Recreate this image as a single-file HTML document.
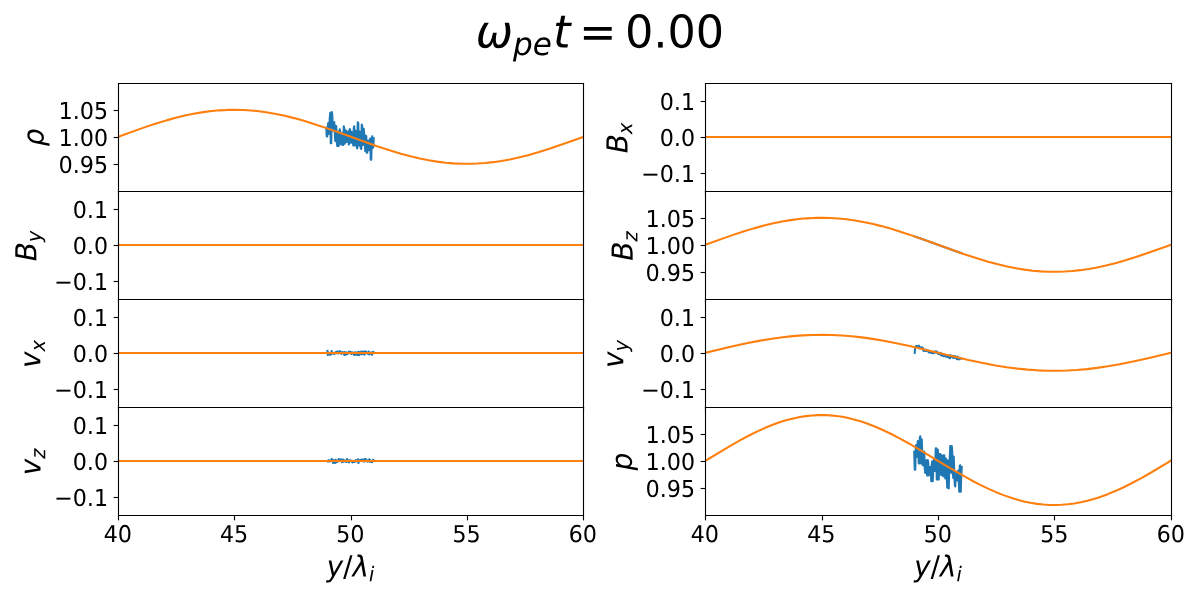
<!DOCTYPE html>
<html><head><meta charset="utf-8"><style>
html,body{margin:0;padding:0;background:#fff;width:1200px;height:600px;overflow:hidden;font-family:"Liberation Sans",sans-serif;}
svg{display:block}
</style></head><body>
<svg width="1200" height="600" viewBox="0 0 864 432" version="1.1">
 
 <defs>
  <style type="text/css">*{stroke-linejoin: round; stroke-linecap: butt}</style>
 </defs>
 <g id="figure_1">
  <g id="patch_1">
   <path d="M 0 432 
L 864 432 
L 864 0 
L 0 0 
z
" style="fill: #ffffff"/>
  </g>
  <g id="axes_1">
   <g id="patch_2">
    <path d="M 85.32 137.88 
L 420.12 137.88 
L 420.12 60.12 
L 85.32 60.12 
z
" style="fill: #ffffff"/>
   </g>
   <g id="matplotlib.axis_1">
    <g id="xtick_1">
     <g id="line2d_1">
      <defs>
       <path id="m1504cfccaf" d="M 0 0 
L 0 3.5 
" style="stroke: #000000; stroke-width: 0.8"/>
      </defs>
      <g>
       <use href="#m1504cfccaf" x="85.3200" y="137.88" style="stroke: #000000; stroke-width: 0.8"/>
      </g>
     </g>
    </g>
    <g id="xtick_2">
     <g id="line2d_2">
      <g>
       <use href="#m1504cfccaf" x="168.8400" y="137.88" style="stroke: #000000; stroke-width: 0.8"/>
      </g>
     </g>
    </g>
    <g id="xtick_3">
     <g id="line2d_3">
      <g>
       <use href="#m1504cfccaf" x="253.0800" y="137.88" style="stroke: #000000; stroke-width: 0.8"/>
      </g>
     </g>
    </g>
    <g id="xtick_4">
     <g id="line2d_4">
      <g>
       <use href="#m1504cfccaf" x="336.6000" y="137.88" style="stroke: #000000; stroke-width: 0.8"/>
      </g>
     </g>
    </g>
    <g id="xtick_5">
     <g id="line2d_5">
      <g>
       <use href="#m1504cfccaf" x="420.1200" y="137.88" style="stroke: #000000; stroke-width: 0.8"/>
      </g>
     </g>
    </g>
   </g>
   <g id="matplotlib.axis_2">
    <g id="ytick_1">
     <g id="line2d_6">
      <defs>
       <path id="m5d545ce8f8" d="M 0 0 
L -3.5 0 
" style="stroke: #000000; stroke-width: 0.8"/>
      </defs>
      <g>
       <use href="#m5d545ce8f8" x="85.3200" y="118.44" style="stroke: #000000; stroke-width: 0.8"/>
      </g>
     </g>
     <g id="text_1">
      <!-- 0.95 -->
      <g transform="translate(42.195 124.51875) scale(0.16 -0.1672)">
       <defs>
        <path id="DejaVuSans-30" d="M 2034 4250 
Q 1547 4250 1301 3770 
Q 1056 3291 1056 2328 
Q 1056 1369 1301 889 
Q 1547 409 2034 409 
Q 2525 409 2770 889 
Q 3016 1369 3016 2328 
Q 3016 3291 2770 3770 
Q 2525 4250 2034 4250 
z
M 2034 4750 
Q 2819 4750 3233 4129 
Q 3647 3509 3647 2328 
Q 3647 1150 3233 529 
Q 2819 -91 2034 -91 
Q 1250 -91 836 529 
Q 422 1150 422 2328 
Q 422 3509 836 4129 
Q 1250 4750 2034 4750 
z
" transform="scale(0.015625)"/>
        <path id="DejaVuSans-2e" d="M 684 794 
L 1344 794 
L 1344 0 
L 684 0 
L 684 794 
z
" transform="scale(0.015625)"/>
        <path id="DejaVuSans-39" d="M 703 97 
L 703 672 
Q 941 559 1184 500 
Q 1428 441 1663 441 
Q 2288 441 2617 861 
Q 2947 1281 2994 2138 
Q 2813 1869 2534 1725 
Q 2256 1581 1919 1581 
Q 1219 1581 811 2004 
Q 403 2428 403 3163 
Q 403 3881 828 4315 
Q 1253 4750 1959 4750 
Q 2769 4750 3195 4129 
Q 3622 3509 3622 2328 
Q 3622 1225 3098 567 
Q 2575 -91 1691 -91 
Q 1453 -91 1209 -44 
Q 966 3 703 97 
z
M 1959 2075 
Q 2384 2075 2632 2365 
Q 2881 2656 2881 3163 
Q 2881 3666 2632 3958 
Q 2384 4250 1959 4250 
Q 1534 4250 1286 3958 
Q 1038 3666 1038 3163 
Q 1038 2656 1286 2365 
Q 1534 2075 1959 2075 
z
" transform="scale(0.015625)"/>
        <path id="DejaVuSans-35" d="M 691 4666 
L 3169 4666 
L 3169 4134 
L 1269 4134 
L 1269 2991 
Q 1406 3038 1543 3061 
Q 1681 3084 1819 3084 
Q 2600 3084 3056 2656 
Q 3513 2228 3513 1497 
Q 3513 744 3044 326 
Q 2575 -91 1722 -91 
Q 1428 -91 1123 -41 
Q 819 9 494 109 
L 494 744 
Q 775 591 1075 516 
Q 1375 441 1709 441 
Q 2250 441 2565 725 
Q 2881 1009 2881 1497 
Q 2881 1984 2565 2268 
Q 2250 2553 1709 2553 
Q 1456 2553 1204 2497 
Q 953 2441 691 2322 
L 691 4666 
z
" transform="scale(0.015625)"/>
       </defs>
       <use href="#DejaVuSans-30"/>
       <use href="#DejaVuSans-2e" transform="translate(63.623047 0)"/>
       <use href="#DejaVuSans-39" transform="translate(95.410156 0)"/>
       <use href="#DejaVuSans-35" transform="translate(159.033203 0)"/>
      </g>
     </g>
    </g>
    <g id="ytick_2">
     <g id="line2d_7">
      <g>
       <use href="#m5d545ce8f8" x="85.3200" y="99" style="stroke: #000000; stroke-width: 0.8"/>
      </g>
     </g>
     <g id="text_2">
      <!-- 1.00 -->
      <g transform="translate(42.195 105.07875) scale(0.16 -0.1672)">
       <defs>
        <path id="DejaVuSans-31" d="M 794 531 
L 1825 531 
L 1825 4091 
L 703 3866 
L 703 4441 
L 1819 4666 
L 2450 4666 
L 2450 531 
L 3481 531 
L 3481 0 
L 794 0 
L 794 531 
z
" transform="scale(0.015625)"/>
       </defs>
       <use href="#DejaVuSans-31"/>
       <use href="#DejaVuSans-2e" transform="translate(63.623047 0)"/>
       <use href="#DejaVuSans-30" transform="translate(95.410156 0)"/>
       <use href="#DejaVuSans-30" transform="translate(159.033203 0)"/>
      </g>
     </g>
    </g>
    <g id="ytick_3">
     <g id="line2d_8">
      <g>
       <use href="#m5d545ce8f8" x="85.3200" y="79.56" style="stroke: #000000; stroke-width: 0.8"/>
      </g>
     </g>
     <g id="text_3">
      <!-- 1.05 -->
      <g transform="translate(42.195 85.63875) scale(0.16 -0.1672)">
       <use href="#DejaVuSans-31"/>
       <use href="#DejaVuSans-2e" transform="translate(63.623047 0)"/>
       <use href="#DejaVuSans-30" transform="translate(95.410156 0)"/>
       <use href="#DejaVuSans-35" transform="translate(159.033203 0)"/>
      </g>
     </g>
    </g>
    <g id="text_4">
     <!-- $\rho$ -->
     <g transform="translate(31.331 105.4) rotate(-90) scale(0.2 -0.208)">
      <defs>
       <path id="DejaVuSans-Oblique-3c1" d="M 1203 2875 
Q 1453 3194 1981 3475 
Q 2188 3584 2756 3584 
Q 3394 3584 3694 3078 
Q 3994 2572 3834 1747 
Q 3672 922 3175 415 
Q 2678 -91 2041 -91 
Q 1656 -91 1409 63 
Q 1163 213 1044 525 
L 681 -1331 
L 103 -1331 
L 697 1716 
Q 838 2438 1203 2875 
z
M 3238 1747 
Q 3359 2381 3169 2744 
Q 2978 3103 2522 3103 
Q 2066 3103 1734 2744 
Q 1403 2381 1281 1747 
Q 1156 1113 1347 750 
Q 1538 391 1994 391 
Q 2450 391 2781 750 
Q 3113 1113 3238 1747 
z
" transform="scale(0.015625)"/>
      </defs>
      <use href="#DejaVuSans-Oblique-3c1"/>
     </g>
    </g>
   </g>
   <g id="line2d_9">
    <path d="M 234.9 91.949403 
L 235.26 98.28 
L 235.62 98.28 
L 235.98 91.304379 
L 236.34 88.626982 
L 236.7 96.363856 
L 237.06 95.681764 
L 237.42 84.945842 
L 237.78 81.161924 
L 238.14 103.14 
L 238.5 103.14 
L 238.86 80.64 
L 239.22 82.084256 
L 239.58 93.014667 
L 239.94 94.014259 
L 240.3 88.030678 
L 240.66 87.946177 
L 241.02 94.814289 
L 241.38 101.408366 
L 241.74 90.522402 
L 242.1 91.020074 
L 242.46 101.741615 
L 242.82 105.12 
L 243.18 95.120037 
L 243.54 94.773626 
L 243.9 105.12 
L 244.26 101.318614 
L 244.62 93.06 
L 244.98 94.636168 
L 245.34 101.498002 
L 245.7 104.03838 
L 246.06 95.995119 
L 246.42 95.746723 
L 246.78 104.4 
L 247.14 104.4 
L 247.5 90.9 
L 247.86 92.647283 
L 248.22 103.424817 
L 248.58 101.334728 
L 248.94 93.793154 
L 249.3 96.531763 
L 249.66 102.24 
L 250.02 100.558243 
L 250.38 95.93805 
L 250.74 94.535805 
L 251.1 104.04 
L 251.46 103.297366 
L 251.82 92.88 
L 252.18 93.617269 
L 252.54 100.41133 
L 252.9 102.78 
L 253.26 95.139644 
L 253.62 96.378252 
L 253.98 100.132382 
L 254.34 104.76 
L 254.7 92.238052 
L 255.06 90.9 
L 255.42 104.76 
L 255.78 101.329574 
L 256.14 94.240919 
L 256.5 94.948568 
L 256.86 105.825802 
L 257.22 106.92 
L 257.58 88.02 
L 257.94 88.489142 
L 258.3 104.331 
L 258.66 104.809055 
L 259.02 94.732259 
L 259.38 94.90013 
L 259.74 106.696621 
L 260.1 107.28 
L 260.46 89.64 
L 260.82 90.924555 
L 261.18 104.466783 
L 261.54 100.457207 
L 261.9 92.726127 
L 262.26 96.670359 
L 262.62 101.215665 
L 262.98 108.78283 
L 263.34 97.692392 
L 263.7 97.923603 
L 264.06 109.98 
L 264.42 109.98 
L 264.78 101.352488 
L 265.14 101.421416 
L 265.5 108.197754 
L 265.86 107.522324 
L 266.22 100.456926 
L 266.58 99.722111 
L 266.94 115.02 
L 267.3 115.02 
L 267.66 100.843243 
L 268.02 98.1 
L 268.38 106.486916 
L 268.74 105.977042 
L 269.1 99.454767 
" clip-path="url(#p53d10d1dcf)" style="fill: none; stroke: #1f77b4; stroke-width: 1.5; stroke-linecap: square"/>
   </g>
   <g id="line2d_10">
    <path d="M 84.96 98.496 
L 102.402018 92.250835 
L 111.793874 89.122138 
L 119.844036 86.667741 
L 127.223351 84.652926 
L 133.93182 83.049981 
L 140.304865 81.752915 
L 146.342486 80.744144 
L 152.380108 79.962649 
L 158.082306 79.442313 
L 163.784505 79.139593 
L 169.486703 79.057946 
L 175.188901 79.198307 
L 180.891099 79.559071 
L 186.593297 80.136117 
L 192.630919 80.975485 
L 198.668541 82.039167 
L 205.041586 83.390206 
L 211.750054 85.044708 
L 218.793946 87.010186 
L 226.508685 89.391071 
L 235.565117 92.42479 
L 247.64036 96.725579 
L 271.455423 105.259633 
L 280.511856 108.24246 
L 288.562018 110.660972 
L 295.60591 112.551959 
L 302.314378 114.125704 
L 308.687423 115.392334 
L 314.725045 116.370247 
L 320.762667 117.119316 
L 326.464865 117.607964 
L 332.167063 117.87833 
L 337.869261 117.927325 
L 343.571459 117.754391 
L 349.273658 117.361503 
L 354.975856 116.753147 
L 361.013477 115.881915 
L 367.051099 114.788092 
L 373.424144 113.407534 
L 380.132613 111.724959 
L 387.511928 109.633803 
L 395.56209 107.111222 
L 404.953946 103.92487 
L 418.370883 99.107236 
L 420.048 98.496 
L 420.048 98.496 
" clip-path="url(#p53d10d1dcf)" style="fill: none; stroke: #ff7f0e; stroke-width: 1.5; stroke-linecap: square"/>
   </g>
   <g id="patch_3">
    <path d="M 85.32 137.88 
L 85.32 60.12 
" style="fill: none; stroke: #000000; stroke-width: 0.8; stroke-linejoin: miter; stroke-linecap: square"/>
   </g>
   <g id="patch_4">
    <path d="M 420.12 137.88 
L 420.12 60.12 
" style="fill: none; stroke: #000000; stroke-width: 0.8; stroke-linejoin: miter; stroke-linecap: square"/>
   </g>
   <g id="patch_5">
    <path d="M 85.32 137.88 
L 420.12 137.88 
" style="fill: none; stroke: #000000; stroke-width: 0.8; stroke-linejoin: miter; stroke-linecap: square"/>
   </g>
   <g id="patch_6">
    <path d="M 85.32 60.12 
L 420.12 60.12 
" style="fill: none; stroke: #000000; stroke-width: 0.8; stroke-linejoin: miter; stroke-linecap: square"/>
   </g>
  </g>
  <g id="axes_2">
   <g id="patch_7">
    <path d="M 85.32 215.64 
L 420.12 215.64 
L 420.12 137.88 
L 85.32 137.88 
z
" style="fill: #ffffff"/>
   </g>
   <g id="matplotlib.axis_3">
    <g id="xtick_6">
     <g id="line2d_11">
      <g>
       <use href="#m1504cfccaf" x="85.3200" y="215.64" style="stroke: #000000; stroke-width: 0.8"/>
      </g>
     </g>
    </g>
    <g id="xtick_7">
     <g id="line2d_12">
      <g>
       <use href="#m1504cfccaf" x="168.8400" y="215.64" style="stroke: #000000; stroke-width: 0.8"/>
      </g>
     </g>
    </g>
    <g id="xtick_8">
     <g id="line2d_13">
      <g>
       <use href="#m1504cfccaf" x="253.0800" y="215.64" style="stroke: #000000; stroke-width: 0.8"/>
      </g>
     </g>
    </g>
    <g id="xtick_9">
     <g id="line2d_14">
      <g>
       <use href="#m1504cfccaf" x="336.6000" y="215.64" style="stroke: #000000; stroke-width: 0.8"/>
      </g>
     </g>
    </g>
    <g id="xtick_10">
     <g id="line2d_15">
      <g>
       <use href="#m1504cfccaf" x="420.1200" y="215.64" style="stroke: #000000; stroke-width: 0.8"/>
      </g>
     </g>
    </g>
   </g>
   <g id="matplotlib.axis_4">
    <g id="ytick_4">
     <g id="line2d_16">
      <g>
       <use href="#m5d545ce8f8" x="85.3200" y="202.68" style="stroke: #000000; stroke-width: 0.8"/>
      </g>
     </g>
     <g id="text_5">
      <!-- −0.1 -->
      <g transform="translate(38.9675 208.75875) scale(0.16 -0.1672)">
       <defs>
        <path id="DejaVuSans-2212" d="M 678 2272 
L 4684 2272 
L 4684 1741 
L 678 1741 
L 678 2272 
z
" transform="scale(0.015625)"/>
       </defs>
       <use href="#DejaVuSans-2212"/>
       <use href="#DejaVuSans-30" transform="translate(83.789062 0)"/>
       <use href="#DejaVuSans-2e" transform="translate(147.412109 0)"/>
       <use href="#DejaVuSans-31" transform="translate(179.199219 0)"/>
      </g>
     </g>
    </g>
    <g id="ytick_5">
     <g id="line2d_17">
      <g>
       <use href="#m5d545ce8f8" x="85.3200" y="176.76" style="stroke: #000000; stroke-width: 0.8"/>
      </g>
     </g>
     <g id="text_6">
      <!-- 0.0 -->
      <g transform="translate(52.375 182.83875) scale(0.16 -0.1672)">
       <use href="#DejaVuSans-30"/>
       <use href="#DejaVuSans-2e" transform="translate(63.623047 0)"/>
       <use href="#DejaVuSans-30" transform="translate(95.410156 0)"/>
      </g>
     </g>
    </g>
    <g id="ytick_6">
     <g id="line2d_18">
      <g>
       <use href="#m5d545ce8f8" x="85.3200" y="150.84" style="stroke: #000000; stroke-width: 0.8"/>
      </g>
     </g>
     <g id="text_7">
      <!-- 0.1 -->
      <g transform="translate(52.375 156.91875) scale(0.16 -0.1672)">
       <use href="#DejaVuSans-30"/>
       <use href="#DejaVuSans-2e" transform="translate(63.623047 0)"/>
       <use href="#DejaVuSans-31" transform="translate(95.410156 0)"/>
      </g>
     </g>
    </g>
    <g id="text_8">
     <!-- $B_y$ -->
     <g transform="translate(26.1755 188.06) rotate(-90) scale(0.2 -0.208)">
      <defs>
       <path id="DejaVuSans-Oblique-42" d="M 1081 4666 
L 2694 4666 
Q 3350 4666 3675 4422 
Q 4000 4178 4000 3688 
Q 4000 3238 3720 2911 
Q 3441 2584 2988 2516 
Q 3375 2428 3569 2181 
Q 3763 1934 3763 1522 
Q 3763 819 3242 409 
Q 2722 0 1819 0 
L 172 0 
L 1081 4666 
z
M 1234 2228 
L 903 519 
L 1919 519 
Q 2491 519 2800 781 
Q 3109 1044 3109 1522 
Q 3109 1891 2904 2059 
Q 2700 2228 2247 2228 
L 1234 2228 
z
M 1606 4147 
L 1331 2741 
L 2272 2741 
Q 2775 2741 3058 2959 
Q 3341 3178 3341 3566 
Q 3341 3869 3150 4008 
Q 2959 4147 2541 4147 
L 1606 4147 
z
" transform="scale(0.015625)"/>
       <path id="DejaVuSans-Oblique-79" d="M 1588 -325 
Q 1188 -997 936 -1164 
Q 684 -1331 294 -1331 
L -159 -1331 
L -63 -850 
L 269 -850 
Q 509 -850 678 -719 
Q 847 -588 1056 -206 
L 1234 128 
L 459 3500 
L 1069 3500 
L 1650 819 
L 3256 3500 
L 3859 3500 
L 1588 -325 
z
" transform="scale(0.015625)"/>
      </defs>
      <use href="#DejaVuSans-Oblique-42" transform="translate(0 0.09375)"/>
      <use href="#DejaVuSans-Oblique-79" transform="translate(68.603516 -16.3125) scale(0.7)"/>
     </g>
    </g>
   </g>
   <g id="line2d_19">
    <path d="M 235.7496 176.4 
L 236.088073 176.4 
L 236.426545 176.4 
L 236.765018 176.4 
L 237.103491 176.4 
L 237.441964 176.4 
L 237.780436 176.4 
L 238.118909 176.4 
L 238.457382 176.4 
L 238.795855 176.4 
L 239.134327 176.4 
L 239.4728 176.4 
L 239.811273 176.4 
L 240.149745 176.4 
L 240.488218 176.4 
L 240.826691 176.4 
L 241.165164 176.4 
L 241.503636 176.4 
L 241.842109 176.4 
L 242.180582 176.4 
L 242.519055 176.4 
L 242.857527 176.4 
L 243.196 176.4 
L 243.534473 176.4 
L 243.872945 176.4 
L 244.211418 176.4 
L 244.549891 176.4 
L 244.888364 176.4 
L 245.226836 176.4 
L 245.565309 176.4 
L 245.903782 176.4 
L 246.242255 176.4 
L 246.580727 176.4 
L 246.9192 176.4 
L 247.257673 176.4 
L 247.596145 176.4 
L 247.934618 176.4 
L 248.273091 176.4 
L 248.611564 176.4 
L 248.950036 176.4 
L 249.288509 176.4 
L 249.626982 176.4 
L 249.965455 176.4 
L 250.303927 176.4 
L 250.6424 176.4 
L 250.980873 176.4 
L 251.319345 176.4 
L 251.657818 176.4 
L 251.996291 176.4 
L 252.334764 176.4 
L 252.673236 176.4 
L 253.011709 176.4 
L 253.350182 176.4 
L 253.688655 176.4 
L 254.027127 176.4 
L 254.3656 176.4 
L 254.704073 176.4 
L 255.042545 176.4 
L 255.381018 176.4 
L 255.719491 176.4 
L 256.057964 176.4 
L 256.396436 176.4 
L 256.734909 176.4 
L 257.073382 176.4 
L 257.411855 176.4 
L 257.750327 176.4 
L 258.0888 176.4 
L 258.427273 176.4 
L 258.765745 176.4 
L 259.104218 176.4 
L 259.442691 176.4 
L 259.781164 176.4 
L 260.119636 176.4 
L 260.458109 176.4 
L 260.796582 176.4 
L 261.135055 176.4 
L 261.473527 176.4 
L 261.812 176.4 
L 262.150473 176.4 
L 262.488945 176.4 
L 262.827418 176.4 
L 263.165891 176.4 
L 263.504364 176.4 
L 263.842836 176.4 
L 264.181309 176.4 
L 264.519782 176.4 
L 264.858255 176.4 
L 265.196727 176.4 
L 265.5352 176.4 
L 265.873673 176.4 
L 266.212145 176.4 
L 266.550618 176.4 
L 266.889091 176.4 
L 267.227564 176.4 
L 267.566036 176.4 
L 267.904509 176.4 
L 268.242982 176.4 
L 268.581455 176.4 
L 268.919927 176.4 
L 269.2584 176.4 
" clip-path="url(#p3baa5bf8ba)" style="fill: none; stroke: #1f77b4; stroke-width: 1.5; stroke-linecap: square"/>
   </g>
   <g id="line2d_20">
    <path d="M 84.96 176.4 
L 420.048 176.4 
L 420.048 176.4 
" clip-path="url(#p3baa5bf8ba)" style="fill: none; stroke: #ff7f0e; stroke-width: 1.5; stroke-linecap: square"/>
   </g>
   <g id="patch_8">
    <path d="M 85.32 215.64 
L 85.32 137.88 
" style="fill: none; stroke: #000000; stroke-width: 0.8; stroke-linejoin: miter; stroke-linecap: square"/>
   </g>
   <g id="patch_9">
    <path d="M 420.12 215.64 
L 420.12 137.88 
" style="fill: none; stroke: #000000; stroke-width: 0.8; stroke-linejoin: miter; stroke-linecap: square"/>
   </g>
   <g id="patch_10">
    <path d="M 85.32 215.64 
L 420.12 215.64 
" style="fill: none; stroke: #000000; stroke-width: 0.8; stroke-linejoin: miter; stroke-linecap: square"/>
   </g>
   <g id="patch_11">
    <path d="M 85.32 137.88 
L 420.12 137.88 
" style="fill: none; stroke: #000000; stroke-width: 0.8; stroke-linejoin: miter; stroke-linecap: square"/>
   </g>
  </g>
  <g id="axes_3">
   <g id="patch_12">
    <path d="M 85.32 293.4 
L 420.12 293.4 
L 420.12 215.64 
L 85.32 215.64 
z
" style="fill: #ffffff"/>
   </g>
   <g id="matplotlib.axis_5">
    <g id="xtick_11">
     <g id="line2d_21">
      <g>
       <use href="#m1504cfccaf" x="85.3200" y="293.4" style="stroke: #000000; stroke-width: 0.8"/>
      </g>
     </g>
    </g>
    <g id="xtick_12">
     <g id="line2d_22">
      <g>
       <use href="#m1504cfccaf" x="168.8400" y="293.4" style="stroke: #000000; stroke-width: 0.8"/>
      </g>
     </g>
    </g>
    <g id="xtick_13">
     <g id="line2d_23">
      <g>
       <use href="#m1504cfccaf" x="253.0800" y="293.4" style="stroke: #000000; stroke-width: 0.8"/>
      </g>
     </g>
    </g>
    <g id="xtick_14">
     <g id="line2d_24">
      <g>
       <use href="#m1504cfccaf" x="336.6000" y="293.4" style="stroke: #000000; stroke-width: 0.8"/>
      </g>
     </g>
    </g>
    <g id="xtick_15">
     <g id="line2d_25">
      <g>
       <use href="#m1504cfccaf" x="420.1200" y="293.4" style="stroke: #000000; stroke-width: 0.8"/>
      </g>
     </g>
    </g>
   </g>
   <g id="matplotlib.axis_6">
    <g id="ytick_7">
     <g id="line2d_26">
      <g>
       <use href="#m5d545ce8f8" x="85.3200" y="280.44" style="stroke: #000000; stroke-width: 0.8"/>
      </g>
     </g>
     <g id="text_9">
      <!-- −0.1 -->
      <g transform="translate(38.9675 286.51875) scale(0.16 -0.1672)">
       <use href="#DejaVuSans-2212"/>
       <use href="#DejaVuSans-30" transform="translate(83.789062 0)"/>
       <use href="#DejaVuSans-2e" transform="translate(147.412109 0)"/>
       <use href="#DejaVuSans-31" transform="translate(179.199219 0)"/>
      </g>
     </g>
    </g>
    <g id="ytick_8">
     <g id="line2d_27">
      <g>
       <use href="#m5d545ce8f8" x="85.3200" y="254.52" style="stroke: #000000; stroke-width: 0.8"/>
      </g>
     </g>
     <g id="text_10">
      <!-- 0.0 -->
      <g transform="translate(52.375 260.59875) scale(0.16 -0.1672)">
       <use href="#DejaVuSans-30"/>
       <use href="#DejaVuSans-2e" transform="translate(63.623047 0)"/>
       <use href="#DejaVuSans-30" transform="translate(95.410156 0)"/>
      </g>
     </g>
    </g>
    <g id="ytick_9">
     <g id="line2d_28">
      <g>
       <use href="#m5d545ce8f8" x="85.3200" y="228.6" style="stroke: #000000; stroke-width: 0.8"/>
      </g>
     </g>
     <g id="text_11">
      <!-- 0.1 -->
      <g transform="translate(52.375 234.67875) scale(0.16 -0.1672)">
       <use href="#DejaVuSans-30"/>
       <use href="#DejaVuSans-2e" transform="translate(63.623047 0)"/>
       <use href="#DejaVuSans-31" transform="translate(95.410156 0)"/>
      </g>
     </g>
    </g>
    <g id="text_12">
     <!-- $v_x$ -->
     <g transform="translate(29.080125 264.92) rotate(-90) scale(0.2 -0.208)">
      <defs>
       <path id="DejaVuSans-Oblique-76" d="M 459 3500 
L 1069 3500 
L 1581 525 
L 3256 3500 
L 3866 3500 
L 1875 0 
L 1100 0 
L 459 3500 
z
" transform="scale(0.015625)"/>
       <path id="DejaVuSans-Oblique-78" d="M 3841 3500 
L 2234 1784 
L 3219 0 
L 2559 0 
L 1819 1388 
L 531 0 
L -166 0 
L 1556 1844 
L 641 3500 
L 1300 3500 
L 1972 2234 
L 3144 3500 
L 3841 3500 
z
" transform="scale(0.015625)"/>
      </defs>
      <use href="#DejaVuSans-Oblique-76" transform="translate(0 0.3125)"/>
      <use href="#DejaVuSans-Oblique-78" transform="translate(59.179688 -16.09375) scale(0.7)"/>
     </g>
    </g>
   </g>
   <g id="line2d_29">
    <path d="M 235.7496 252.70848 
L 236.088073 255.61152 
L 236.426545 253.856561 
L 236.765018 254.572064 
L 237.103491 254.488515 
L 237.441964 254.316472 
L 237.780436 255.61152 
L 238.118909 254.328327 
L 238.457382 254.787937 
L 238.795855 252.70848 
L 239.134327 253.996133 
L 239.4728 254.415925 
L 239.811273 254.364147 
L 240.149745 254.644841 
L 240.488218 254.925786 
L 240.826691 254.443628 
L 241.165164 253.810223 
L 241.503636 254.333133 
L 241.842109 253.464897 
L 242.180582 254.305008 
L 242.519055 254.142393 
L 242.857527 253.038105 
L 243.196 253.764384 
L 243.534473 254.526675 
L 243.872945 254.292697 
L 244.211418 253.767708 
L 244.549891 252.755591 
L 244.888364 254.35568 
L 245.226836 254.336765 
L 245.565309 253.432561 
L 245.903782 254.803357 
L 246.242255 254.371719 
L 246.580727 253.519489 
L 246.9192 253.738805 
L 247.257673 254.093581 
L 247.596145 253.673665 
L 247.934618 255.61152 
L 248.273091 253.418776 
L 248.611564 254.856472 
L 248.950036 255.371018 
L 249.288509 253.959367 
L 249.626982 253.651573 
L 249.965455 254.482794 
L 250.303927 254.941212 
L 250.6424 254.14104 
L 250.980873 254.198282 
L 251.319345 253.139873 
L 251.657818 253.617561 
L 251.996291 254.019336 
L 252.334764 253.353221 
L 252.673236 254.30916 
L 253.011709 254.831981 
L 253.350182 253.736114 
L 253.688655 253.737217 
L 254.027127 254.315914 
L 254.3656 254.728131 
L 254.704073 253.993689 
L 255.042545 255.61152 
L 255.381018 253.659135 
L 255.719491 253.803385 
L 256.057964 255.349417 
L 256.396436 254.115472 
L 256.734909 254.859705 
L 257.073382 253.610439 
L 257.411855 255.61152 
L 257.750327 254.823704 
L 258.0888 253.645015 
L 258.427273 253.32073 
L 258.765745 255.61152 
L 259.104218 254.521457 
L 259.442691 253.921936 
L 259.781164 254.602145 
L 260.119636 253.005577 
L 260.458109 255.024545 
L 260.796582 253.902695 
L 261.135055 254.920891 
L 261.473527 253.139608 
L 261.812 254.175714 
L 262.150473 254.430165 
L 262.488945 255.40699 
L 262.827418 252.939398 
L 263.165891 253.613663 
L 263.504364 253.613094 
L 263.842836 253.334171 
L 264.181309 253.906545 
L 264.519782 254.62394 
L 264.858255 254.740783 
L 265.196727 254.740753 
L 265.5352 253.165656 
L 265.873673 255.219886 
L 266.212145 254.592821 
L 266.550618 254.393146 
L 266.889091 253.99698 
L 267.227564 253.742434 
L 267.566036 255.066545 
L 267.904509 255.415575 
L 268.242982 254.163204 
L 268.581455 253.279244 
L 268.919927 253.610558 
L 269.2584 254.003489 
" clip-path="url(#p8526e058fb)" style="fill: none; stroke: #1f77b4; stroke-width: 1.5; stroke-linecap: square"/>
   </g>
   <g id="line2d_30">
    <path d="M 84.96 254.16 
L 420.048 254.16 
L 420.048 254.16 
" clip-path="url(#p8526e058fb)" style="fill: none; stroke: #ff7f0e; stroke-width: 1.5; stroke-linecap: square"/>
   </g>
   <g id="patch_13">
    <path d="M 85.32 293.4 
L 85.32 215.64 
" style="fill: none; stroke: #000000; stroke-width: 0.8; stroke-linejoin: miter; stroke-linecap: square"/>
   </g>
   <g id="patch_14">
    <path d="M 420.12 293.4 
L 420.12 215.64 
" style="fill: none; stroke: #000000; stroke-width: 0.8; stroke-linejoin: miter; stroke-linecap: square"/>
   </g>
   <g id="patch_15">
    <path d="M 85.32 293.4 
L 420.12 293.4 
" style="fill: none; stroke: #000000; stroke-width: 0.8; stroke-linejoin: miter; stroke-linecap: square"/>
   </g>
   <g id="patch_16">
    <path d="M 85.32 215.64 
L 420.12 215.64 
" style="fill: none; stroke: #000000; stroke-width: 0.8; stroke-linejoin: miter; stroke-linecap: square"/>
   </g>
  </g>
  <g id="axes_4">
   <g id="patch_17">
    <path d="M 85.32 371.16 
L 420.12 371.16 
L 420.12 293.4 
L 85.32 293.4 
z
" style="fill: #ffffff"/>
   </g>
   <g id="matplotlib.axis_7">
    <g id="xtick_16">
     <g id="line2d_31">
      <g>
       <use href="#m1504cfccaf" x="85.3200" y="371.16" style="stroke: #000000; stroke-width: 0.8"/>
      </g>
     </g>
     <g id="text_13">
      <!-- 40 -->
      <g transform="translate(74.6400 390.3175) scale(0.16 -0.1672)">
       <defs>
        <path id="DejaVuSans-34" d="M 2419 4116 
L 825 1625 
L 2419 1625 
L 2419 4116 
z
M 2253 4666 
L 3047 4666 
L 3047 1625 
L 3713 1625 
L 3713 1100 
L 3047 1100 
L 3047 0 
L 2419 0 
L 2419 1100 
L 313 1100 
L 313 1709 
L 2253 4666 
z
" transform="scale(0.015625)"/>
       </defs>
       <use href="#DejaVuSans-34"/>
       <use href="#DejaVuSans-30" transform="translate(63.623047 0)"/>
      </g>
     </g>
    </g>
    <g id="xtick_17">
     <g id="line2d_32">
      <g>
       <use href="#m1504cfccaf" x="168.8400" y="371.16" style="stroke: #000000; stroke-width: 0.8"/>
      </g>
     </g>
     <g id="text_14">
      <!-- 45 -->
      <g transform="translate(158.3400 390.3175) scale(0.16 -0.1672)">
       <use href="#DejaVuSans-34"/>
       <use href="#DejaVuSans-35" transform="translate(63.623047 0)"/>
      </g>
     </g>
    </g>
    <g id="xtick_18">
     <g id="line2d_33">
      <g>
       <use href="#m1504cfccaf" x="253.0800" y="371.16" style="stroke: #000000; stroke-width: 0.8"/>
      </g>
     </g>
     <g id="text_15">
      <!-- 50 -->
      <g transform="translate(242.0400 390.3175) scale(0.16 -0.1672)">
       <use href="#DejaVuSans-35"/>
       <use href="#DejaVuSans-30" transform="translate(63.623047 0)"/>
      </g>
     </g>
    </g>
    <g id="xtick_19">
     <g id="line2d_34">
      <g>
       <use href="#m1504cfccaf" x="336.6000" y="371.16" style="stroke: #000000; stroke-width: 0.8"/>
      </g>
     </g>
     <g id="text_16">
      <!-- 55 -->
      <g transform="translate(325.7400 390.3175) scale(0.16 -0.1672)">
       <use href="#DejaVuSans-35"/>
       <use href="#DejaVuSans-35" transform="translate(63.623047 0)"/>
      </g>
     </g>
    </g>
    <g id="xtick_20">
     <g id="line2d_35">
      <g>
       <use href="#m1504cfccaf" x="420.1200" y="371.16" style="stroke: #000000; stroke-width: 0.8"/>
      </g>
     </g>
     <g id="text_17">
      <!-- 60 -->
      <g transform="translate(409.4400 390.3175) scale(0.16 -0.1672)">
       <defs>
        <path id="DejaVuSans-36" d="M 2113 2584 
Q 1688 2584 1439 2293 
Q 1191 2003 1191 1497 
Q 1191 994 1439 701 
Q 1688 409 2113 409 
Q 2538 409 2786 701 
Q 3034 994 3034 1497 
Q 3034 2003 2786 2293 
Q 2538 2584 2113 2584 
z
M 3366 4563 
L 3366 3988 
Q 3128 4100 2886 4159 
Q 2644 4219 2406 4219 
Q 1781 4219 1451 3797 
Q 1122 3375 1075 2522 
Q 1259 2794 1537 2939 
Q 1816 3084 2150 3084 
Q 2853 3084 3261 2657 
Q 3669 2231 3669 1497 
Q 3669 778 3244 343 
Q 2819 -91 2113 -91 
Q 1303 -91 875 529 
Q 447 1150 447 2328 
Q 447 3434 972 4092 
Q 1497 4750 2381 4750 
Q 2619 4750 2861 4703 
Q 3103 4656 3366 4563 
z
" transform="scale(0.015625)"/>
       </defs>
       <use href="#DejaVuSans-36"/>
       <use href="#DejaVuSans-30" transform="translate(63.623047 0)"/>
      </g>
     </g>
    </g>
    <g id="text_18">
     <!-- $y/\lambda_i$ -->
     <g transform="translate(235.22 415.005) scale(0.2 -0.208)">
      <defs>
       <path id="DejaVuSans-2f" d="M 1625 4666 
L 2156 4666 
L 531 -594 
L 0 -594 
L 1625 4666 
z
" transform="scale(0.015625)"/>
       <path id="DejaVuSans-Oblique-3bb" d="M 2350 4316 
L 3125 0 
L 2516 0 
L 2038 2588 
L 328 0 
L -281 0 
L 1903 3356 
L 1794 3975 
Q 1725 4369 1391 4369 
L 1091 4369 
L 1184 4863 
L 1550 4856 
Q 2253 4847 2350 4316 
z
" transform="scale(0.015625)"/>
       <path id="DejaVuSans-Oblique-69" d="M 1172 4863 
L 1747 4863 
L 1606 4134 
L 1031 4134 
L 1172 4863 
z
M 909 3500 
L 1484 3500 
L 800 0 
L 225 0 
L 909 3500 
z
" transform="scale(0.015625)"/>
      </defs>
      <use href="#DejaVuSans-Oblique-79" transform="translate(0 0.015625)"/>
      <use href="#DejaVuSans-2f" transform="translate(59.179688 0.015625)"/>
      <use href="#DejaVuSans-Oblique-3bb" transform="translate(92.871094 0.015625)"/>
      <use href="#DejaVuSans-Oblique-69" transform="translate(152.050781 -16.390625) scale(0.7)"/>
     </g>
    </g>
   </g>
   <g id="matplotlib.axis_8">
    <g id="ytick_10">
     <g id="line2d_36">
      <g>
       <use href="#m5d545ce8f8" x="85.3200" y="358.2" style="stroke: #000000; stroke-width: 0.8"/>
      </g>
     </g>
     <g id="text_19">
      <!-- −0.1 -->
      <g transform="translate(38.9675 364.27875) scale(0.16 -0.1672)">
       <use href="#DejaVuSans-2212"/>
       <use href="#DejaVuSans-30" transform="translate(83.789062 0)"/>
       <use href="#DejaVuSans-2e" transform="translate(147.412109 0)"/>
       <use href="#DejaVuSans-31" transform="translate(179.199219 0)"/>
      </g>
     </g>
    </g>
    <g id="ytick_11">
     <g id="line2d_37">
      <g>
       <use href="#m5d545ce8f8" x="85.3200" y="332.28" style="stroke: #000000; stroke-width: 0.8"/>
      </g>
     </g>
     <g id="text_20">
      <!-- 0.0 -->
      <g transform="translate(52.375 338.35875) scale(0.16 -0.1672)">
       <use href="#DejaVuSans-30"/>
       <use href="#DejaVuSans-2e" transform="translate(63.623047 0)"/>
       <use href="#DejaVuSans-30" transform="translate(95.410156 0)"/>
      </g>
     </g>
    </g>
    <g id="ytick_12">
     <g id="line2d_38">
      <g>
       <use href="#m5d545ce8f8" x="85.3200" y="306.36" style="stroke: #000000; stroke-width: 0.8"/>
      </g>
     </g>
     <g id="text_21">
      <!-- 0.1 -->
      <g transform="translate(52.375 312.43875) scale(0.16 -0.1672)">
       <use href="#DejaVuSans-30"/>
       <use href="#DejaVuSans-2e" transform="translate(63.623047 0)"/>
       <use href="#DejaVuSans-31" transform="translate(95.410156 0)"/>
      </g>
     </g>
    </g>
    <g id="text_22">
     <!-- $v_z$ -->
     <g transform="translate(29.224125 342.18) rotate(-90) scale(0.2 -0.208)">
      <defs>
       <path id="DejaVuSans-Oblique-7a" d="M 744 3500 
L 3475 3500 
L 3372 2975 
L 738 459 
L 2913 459 
L 2822 0 
L -19 0 
L 84 525 
L 2719 3041 
L 653 3041 
L 744 3500 
z
" transform="scale(0.015625)"/>
      </defs>
      <use href="#DejaVuSans-Oblique-76" transform="translate(0 0.3125)"/>
      <use href="#DejaVuSans-Oblique-7a" transform="translate(59.179688 -16.09375) scale(0.7)"/>
     </g>
    </g>
   </g>
   <g id="line2d_39">
    <path d="M 235.7496 332.150179 
L 236.088073 331.707183 
L 236.426545 332.096603 
L 236.765018 331.326904 
L 237.103491 332.496578 
L 237.441964 331.822574 
L 237.780436 332.0004 
L 238.118909 331.525651 
L 238.457382 331.756966 
L 238.795855 330.46848 
L 239.134327 330.832336 
L 239.4728 330.833728 
L 239.811273 333.37152 
L 240.149745 332.166988 
L 240.488218 332.361705 
L 240.826691 331.533372 
L 241.165164 333.37152 
L 241.503636 331.067596 
L 241.842109 331.145626 
L 242.180582 332.864991 
L 242.519055 332.630191 
L 242.857527 332.501459 
L 243.196 331.888578 
L 243.534473 331.454809 
L 243.872945 330.46848 
L 244.211418 332.063298 
L 244.549891 331.362977 
L 244.888364 331.807204 
L 245.226836 330.642716 
L 245.565309 331.381372 
L 245.903782 330.926761 
L 246.242255 332.702134 
L 246.580727 332.059521 
L 246.9192 332.510603 
L 247.257673 330.827769 
L 247.596145 331.442711 
L 247.934618 332.141462 
L 248.273091 332.248383 
L 248.611564 331.56825 
L 248.950036 332.429117 
L 249.288509 332.595384 
L 249.626982 331.57071 
L 249.965455 330.46848 
L 250.303927 332.098634 
L 250.6424 332.323425 
L 250.980873 332.769979 
L 251.319345 332.888898 
L 251.657818 331.538988 
L 251.996291 331.302521 
L 252.334764 331.913341 
L 252.673236 331.67863 
L 253.011709 331.835872 
L 253.350182 331.81937 
L 253.688655 333.027625 
L 254.027127 332.252484 
L 254.3656 331.839093 
L 254.704073 332.488391 
L 255.042545 332.265774 
L 255.381018 332.514485 
L 255.719491 332.162039 
L 256.057964 331.300848 
L 256.396436 332.21508 
L 256.734909 332.031673 
L 257.073382 331.329436 
L 257.411855 331.452052 
L 257.750327 330.689686 
L 258.0888 333.37152 
L 258.427273 331.298126 
L 258.765745 332.270022 
L 259.104218 331.822246 
L 259.442691 331.312017 
L 259.781164 331.133818 
L 260.119636 331.165681 
L 260.458109 331.80743 
L 260.796582 330.751771 
L 261.135055 332.125371 
L 261.473527 332.022319 
L 261.812 331.339863 
L 262.150473 332.320164 
L 262.488945 330.46848 
L 262.827418 331.180301 
L 263.165891 330.46848 
L 263.504364 331.939297 
L 263.842836 332.19803 
L 264.181309 331.798763 
L 264.519782 331.386874 
L 264.858255 332.346332 
L 265.196727 331.644428 
L 265.5352 331.932196 
L 265.873673 330.747403 
L 266.212145 332.400962 
L 266.550618 331.160738 
L 266.889091 332.38729 
L 267.227564 332.61719 
L 267.566036 332.435507 
L 267.904509 332.783789 
L 268.242982 331.813785 
L 268.581455 331.171552 
L 268.919927 331.800747 
L 269.2584 331.46689 
" clip-path="url(#p527ee5ba74)" style="fill: none; stroke: #1f77b4; stroke-width: 1.5; stroke-linecap: square"/>
   </g>
   <g id="line2d_40">
    <path d="M 84.96 331.92 
L 420.048 331.92 
L 420.048 331.92 
" clip-path="url(#p527ee5ba74)" style="fill: none; stroke: #ff7f0e; stroke-width: 1.5; stroke-linecap: square"/>
   </g>
   <g id="patch_18">
    <path d="M 85.32 371.16 
L 85.32 293.4 
" style="fill: none; stroke: #000000; stroke-width: 0.8; stroke-linejoin: miter; stroke-linecap: square"/>
   </g>
   <g id="patch_19">
    <path d="M 420.12 371.16 
L 420.12 293.4 
" style="fill: none; stroke: #000000; stroke-width: 0.8; stroke-linejoin: miter; stroke-linecap: square"/>
   </g>
   <g id="patch_20">
    <path d="M 85.32 371.16 
L 420.12 371.16 
" style="fill: none; stroke: #000000; stroke-width: 0.8; stroke-linejoin: miter; stroke-linecap: square"/>
   </g>
   <g id="patch_21">
    <path d="M 85.32 293.4 
L 420.12 293.4 
" style="fill: none; stroke: #000000; stroke-width: 0.8; stroke-linejoin: miter; stroke-linecap: square"/>
   </g>
  </g>
  <g id="axes_5">
   <g id="patch_22">
    <path d="M 507.96 137.88 
L 843.48 137.88 
L 843.48 60.12 
L 507.96 60.12 
z
" style="fill: #ffffff"/>
   </g>
   <g id="matplotlib.axis_9">
    <g id="xtick_21">
     <g id="line2d_41">
      <g>
       <use href="#m1504cfccaf" x="507.9600" y="137.88" style="stroke: #000000; stroke-width: 0.8"/>
      </g>
     </g>
    </g>
    <g id="xtick_22">
     <g id="line2d_42">
      <g>
       <use href="#m1504cfccaf" x="592.2000" y="137.88" style="stroke: #000000; stroke-width: 0.8"/>
      </g>
     </g>
    </g>
    <g id="xtick_23">
     <g id="line2d_43">
      <g>
       <use href="#m1504cfccaf" x="675.7200" y="137.88" style="stroke: #000000; stroke-width: 0.8"/>
      </g>
     </g>
    </g>
    <g id="xtick_24">
     <g id="line2d_44">
      <g>
       <use href="#m1504cfccaf" x="759.2400" y="137.88" style="stroke: #000000; stroke-width: 0.8"/>
      </g>
     </g>
    </g>
    <g id="xtick_25">
     <g id="line2d_45">
      <g>
       <use href="#m1504cfccaf" x="843.4800" y="137.88" style="stroke: #000000; stroke-width: 0.8"/>
      </g>
     </g>
    </g>
   </g>
   <g id="matplotlib.axis_10">
    <g id="ytick_13">
     <g id="line2d_46">
      <g>
       <use href="#m5d545ce8f8" x="507.9600" y="124.92" style="stroke: #000000; stroke-width: 0.8"/>
      </g>
     </g>
     <g id="text_23">
      <!-- −0.1 -->
      <g transform="translate(461.6075 130.99875) scale(0.16 -0.1672)">
       <use href="#DejaVuSans-2212"/>
       <use href="#DejaVuSans-30" transform="translate(83.789062 0)"/>
       <use href="#DejaVuSans-2e" transform="translate(147.412109 0)"/>
       <use href="#DejaVuSans-31" transform="translate(179.199219 0)"/>
      </g>
     </g>
    </g>
    <g id="ytick_14">
     <g id="line2d_47">
      <g>
       <use href="#m5d545ce8f8" x="507.9600" y="99" style="stroke: #000000; stroke-width: 0.8"/>
      </g>
     </g>
     <g id="text_24">
      <!-- 0.0 -->
      <g transform="translate(475.015 105.07875) scale(0.16 -0.1672)">
       <use href="#DejaVuSans-30"/>
       <use href="#DejaVuSans-2e" transform="translate(63.623047 0)"/>
       <use href="#DejaVuSans-30" transform="translate(95.410156 0)"/>
      </g>
     </g>
    </g>
    <g id="ytick_15">
     <g id="line2d_48">
      <g>
       <use href="#m5d545ce8f8" x="507.9600" y="73.08" style="stroke: #000000; stroke-width: 0.8"/>
      </g>
     </g>
     <g id="text_25">
      <!-- 0.1 -->
      <g transform="translate(475.015 79.15875) scale(0.16 -0.1672)">
       <use href="#DejaVuSans-30"/>
       <use href="#DejaVuSans-2e" transform="translate(63.623047 0)"/>
       <use href="#DejaVuSans-31" transform="translate(95.410156 0)"/>
      </g>
     </g>
    </g>
    <g id="text_26">
     <!-- $B_x$ -->
     <g transform="translate(451.792125 110.3) rotate(-90) scale(0.2 -0.208)">
      <use href="#DejaVuSans-Oblique-42" transform="translate(0 0.09375)"/>
      <use href="#DejaVuSans-Oblique-78" transform="translate(68.603516 -16.3125) scale(0.7)"/>
     </g>
    </g>
   </g>
   <g id="line2d_49">
    <path d="M 658.6056 98.64 
L 658.944073 98.64 
L 659.282545 98.64 
L 659.621018 98.64 
L 659.959491 98.64 
L 660.297964 98.64 
L 660.636436 98.64 
L 660.974909 98.64 
L 661.313382 98.64 
L 661.651855 98.64 
L 661.990327 98.64 
L 662.3288 98.64 
L 662.667273 98.64 
L 663.005745 98.64 
L 663.344218 98.64 
L 663.682691 98.64 
L 664.021164 98.64 
L 664.359636 98.64 
L 664.698109 98.64 
L 665.036582 98.64 
L 665.375055 98.64 
L 665.713527 98.64 
L 666.052 98.64 
L 666.390473 98.64 
L 666.728945 98.64 
L 667.067418 98.64 
L 667.405891 98.64 
L 667.744364 98.64 
L 668.082836 98.64 
L 668.421309 98.64 
L 668.759782 98.64 
L 669.098255 98.64 
L 669.436727 98.64 
L 669.7752 98.64 
L 670.113673 98.64 
L 670.452145 98.64 
L 670.790618 98.64 
L 671.129091 98.64 
L 671.467564 98.64 
L 671.806036 98.64 
L 672.144509 98.64 
L 672.482982 98.64 
L 672.821455 98.64 
L 673.159927 98.64 
L 673.4984 98.64 
L 673.836873 98.64 
L 674.175345 98.64 
L 674.513818 98.64 
L 674.852291 98.64 
L 675.190764 98.64 
L 675.529236 98.64 
L 675.867709 98.64 
L 676.206182 98.64 
L 676.544655 98.64 
L 676.883127 98.64 
L 677.2216 98.64 
L 677.560073 98.64 
L 677.898545 98.64 
L 678.237018 98.64 
L 678.575491 98.64 
L 678.913964 98.64 
L 679.252436 98.64 
L 679.590909 98.64 
L 679.929382 98.64 
L 680.267855 98.64 
L 680.606327 98.64 
L 680.9448 98.64 
L 681.283273 98.64 
L 681.621745 98.64 
L 681.960218 98.64 
L 682.298691 98.64 
L 682.637164 98.64 
L 682.975636 98.64 
L 683.314109 98.64 
L 683.652582 98.64 
L 683.991055 98.64 
L 684.329527 98.64 
L 684.668 98.64 
L 685.006473 98.64 
L 685.344945 98.64 
L 685.683418 98.64 
L 686.021891 98.64 
L 686.360364 98.64 
L 686.698836 98.64 
L 687.037309 98.64 
L 687.375782 98.64 
L 687.714255 98.64 
L 688.052727 98.64 
L 688.3912 98.64 
L 688.729673 98.64 
L 689.068145 98.64 
L 689.406618 98.64 
L 689.745091 98.64 
L 690.083564 98.64 
L 690.422036 98.64 
L 690.760509 98.64 
L 691.098982 98.64 
L 691.437455 98.64 
L 691.775927 98.64 
L 692.1144 98.64 
" clip-path="url(#pd490ebf301)" style="fill: none; stroke: #1f77b4; stroke-width: 1.5; stroke-linecap: square"/>
   </g>
   <g id="line2d_50">
    <path d="M 507.816 98.64 
L 842.904 98.64 
L 842.904 98.64 
" clip-path="url(#pd490ebf301)" style="fill: none; stroke: #ff7f0e; stroke-width: 1.5; stroke-linecap: square"/>
   </g>
   <g id="patch_23">
    <path d="M 507.96 137.88 
L 507.96 60.12 
" style="fill: none; stroke: #000000; stroke-width: 0.8; stroke-linejoin: miter; stroke-linecap: square"/>
   </g>
   <g id="patch_24">
    <path d="M 843.48 137.88 
L 843.48 60.12 
" style="fill: none; stroke: #000000; stroke-width: 0.8; stroke-linejoin: miter; stroke-linecap: square"/>
   </g>
   <g id="patch_25">
    <path d="M 507.96 137.88 
L 843.48 137.88 
" style="fill: none; stroke: #000000; stroke-width: 0.8; stroke-linejoin: miter; stroke-linecap: square"/>
   </g>
   <g id="patch_26">
    <path d="M 507.96 60.12 
L 843.48 60.12 
" style="fill: none; stroke: #000000; stroke-width: 0.8; stroke-linejoin: miter; stroke-linecap: square"/>
   </g>
  </g>
  <g id="axes_6">
   <g id="patch_27">
    <path d="M 507.96 215.64 
L 843.48 215.64 
L 843.48 137.88 
L 507.96 137.88 
z
" style="fill: #ffffff"/>
   </g>
   <g id="matplotlib.axis_11">
    <g id="xtick_26">
     <g id="line2d_51">
      <g>
       <use href="#m1504cfccaf" x="507.9600" y="215.64" style="stroke: #000000; stroke-width: 0.8"/>
      </g>
     </g>
    </g>
    <g id="xtick_27">
     <g id="line2d_52">
      <g>
       <use href="#m1504cfccaf" x="592.2000" y="215.64" style="stroke: #000000; stroke-width: 0.8"/>
      </g>
     </g>
    </g>
    <g id="xtick_28">
     <g id="line2d_53">
      <g>
       <use href="#m1504cfccaf" x="675.7200" y="215.64" style="stroke: #000000; stroke-width: 0.8"/>
      </g>
     </g>
    </g>
    <g id="xtick_29">
     <g id="line2d_54">
      <g>
       <use href="#m1504cfccaf" x="759.2400" y="215.64" style="stroke: #000000; stroke-width: 0.8"/>
      </g>
     </g>
    </g>
    <g id="xtick_30">
     <g id="line2d_55">
      <g>
       <use href="#m1504cfccaf" x="843.4800" y="215.64" style="stroke: #000000; stroke-width: 0.8"/>
      </g>
     </g>
    </g>
   </g>
   <g id="matplotlib.axis_12">
    <g id="ytick_16">
     <g id="line2d_56">
      <g>
       <use href="#m5d545ce8f8" x="507.9600" y="196.2" style="stroke: #000000; stroke-width: 0.8"/>
      </g>
     </g>
     <g id="text_27">
      <!-- 0.95 -->
      <g transform="translate(464.835 202.27875) scale(0.16 -0.1672)">
       <use href="#DejaVuSans-30"/>
       <use href="#DejaVuSans-2e" transform="translate(63.623047 0)"/>
       <use href="#DejaVuSans-39" transform="translate(95.410156 0)"/>
       <use href="#DejaVuSans-35" transform="translate(159.033203 0)"/>
      </g>
     </g>
    </g>
    <g id="ytick_17">
     <g id="line2d_57">
      <g>
       <use href="#m5d545ce8f8" x="507.9600" y="176.76" style="stroke: #000000; stroke-width: 0.8"/>
      </g>
     </g>
     <g id="text_28">
      <!-- 1.00 -->
      <g transform="translate(464.835 182.83875) scale(0.16 -0.1672)">
       <use href="#DejaVuSans-31"/>
       <use href="#DejaVuSans-2e" transform="translate(63.623047 0)"/>
       <use href="#DejaVuSans-30" transform="translate(95.410156 0)"/>
       <use href="#DejaVuSans-30" transform="translate(159.033203 0)"/>
      </g>
     </g>
    </g>
    <g id="ytick_18">
     <g id="line2d_58">
      <g>
       <use href="#m5d545ce8f8" x="507.9600" y="157.32" style="stroke: #000000; stroke-width: 0.8"/>
      </g>
     </g>
     <g id="text_29">
      <!-- 1.05 -->
      <g transform="translate(464.835 163.39875) scale(0.16 -0.1672)">
       <use href="#DejaVuSans-31"/>
       <use href="#DejaVuSans-2e" transform="translate(63.623047 0)"/>
       <use href="#DejaVuSans-30" transform="translate(95.410156 0)"/>
       <use href="#DejaVuSans-35" transform="translate(159.033203 0)"/>
      </g>
     </g>
    </g>
    <g id="text_30">
     <!-- $B_z$ -->
     <g transform="translate(455.523625 187.66) rotate(-90) scale(0.2 -0.208)">
      <use href="#DejaVuSans-Oblique-42" transform="translate(0 0.09375)"/>
      <use href="#DejaVuSans-Oblique-7a" transform="translate(68.603516 -16.3125) scale(0.7)"/>
     </g>
    </g>
   </g>
   <g id="line2d_59">
    <path d="M 658.6056 170.24871 
L 658.944073 170.36617 
L 659.282545 170.483868 
L 659.621018 170.601798 
L 659.959491 170.719956 
L 660.297964 170.838337 
L 660.636436 170.956936 
L 660.974909 171.075749 
L 661.313382 171.19477 
L 661.651855 171.313996 
L 661.990327 171.43342 
L 662.3288 171.553038 
L 662.667273 171.672846 
L 663.005745 171.792839 
L 663.344218 171.913011 
L 663.682691 172.033358 
L 664.021164 172.153876 
L 664.359636 172.274558 
L 664.698109 172.395401 
L 665.036582 172.5164 
L 665.375055 172.637549 
L 665.713527 172.758844 
L 666.052 172.880279 
L 666.390473 173.001851 
L 666.728945 173.123554 
L 667.067418 173.245383 
L 667.405891 173.367333 
L 667.744364 173.4894 
L 668.082836 173.611578 
L 668.421309 173.733862 
L 668.759782 173.856248 
L 669.098255 173.978731 
L 669.436727 174.101305 
L 669.7752 174.223967 
L 670.113673 174.34671 
L 670.452145 174.46953 
L 670.790618 174.592422 
L 671.129091 174.715381 
L 671.467564 174.838402 
L 671.806036 174.96148 
L 672.144509 175.08461 
L 672.482982 175.207788 
L 672.821455 175.331008 
L 673.159927 175.454265 
L 673.4984 175.577554 
L 673.836873 175.70087 
L 674.175345 175.824209 
L 674.513818 175.947566 
L 674.852291 176.070934 
L 675.190764 176.194311 
L 675.529236 176.317689 
L 675.867709 176.441066 
L 676.206182 176.564434 
L 676.544655 176.687791 
L 676.883127 176.81113 
L 677.2216 176.934446 
L 677.560073 177.057735 
L 677.898545 177.180992 
L 678.237018 177.304212 
L 678.575491 177.42739 
L 678.913964 177.55052 
L 679.252436 177.673598 
L 679.590909 177.796619 
L 679.929382 177.919578 
L 680.267855 178.04247 
L 680.606327 178.16529 
L 680.9448 178.288033 
L 681.283273 178.410695 
L 681.621745 178.533269 
L 681.960218 178.655752 
L 682.298691 178.778138 
L 682.637164 178.900422 
L 682.975636 179.0226 
L 683.314109 179.144667 
L 683.652582 179.266617 
L 683.991055 179.388446 
L 684.329527 179.510149 
L 684.668 179.631721 
L 685.006473 179.753156 
L 685.344945 179.874451 
L 685.683418 179.9956 
L 686.021891 180.116599 
L 686.360364 180.237442 
L 686.698836 180.358124 
L 687.037309 180.478642 
L 687.375782 180.598989 
L 687.714255 180.719161 
L 688.052727 180.839154 
L 688.3912 180.958962 
L 688.729673 181.07858 
L 689.068145 181.198004 
L 689.406618 181.31723 
L 689.745091 181.436251 
L 690.083564 181.555064 
L 690.422036 181.673663 
L 690.760509 181.792044 
L 691.098982 181.910202 
L 691.437455 182.028132 
L 691.775927 182.14583 
L 692.1144 182.26329 
" clip-path="url(#pa5f1720a9e)" style="fill: none; stroke: #1f77b4; stroke-width: 1.5; stroke-linecap: square"/>
   </g>
   <g id="line2d_60">
    <path d="M 507.816 176.256 
L 525.258018 170.010835 
L 534.649874 166.882138 
L 542.700036 164.427741 
L 550.079351 162.412926 
L 556.78782 160.809981 
L 563.160865 159.512915 
L 569.198486 158.504144 
L 575.236108 157.722649 
L 580.938306 157.202313 
L 586.640505 156.899593 
L 592.342703 156.817946 
L 598.044901 156.958307 
L 603.747099 157.319071 
L 609.449297 157.896117 
L 615.486919 158.735485 
L 621.524541 159.799167 
L 627.897586 161.150206 
L 634.606054 162.804708 
L 641.649946 164.770186 
L 649.364685 167.151071 
L 658.421117 170.18479 
L 670.49636 174.485579 
L 694.311423 183.019633 
L 703.367856 186.00246 
L 711.418018 188.420972 
L 718.46191 190.311959 
L 725.170378 191.885704 
L 731.543423 193.152334 
L 737.581045 194.130247 
L 743.618667 194.879316 
L 749.320865 195.367964 
L 755.023063 195.63833 
L 760.725261 195.687325 
L 766.427459 195.514391 
L 772.129658 195.121503 
L 777.831856 194.513147 
L 783.869477 193.641915 
L 789.907099 192.548092 
L 796.280144 191.167534 
L 802.988613 189.484959 
L 810.367928 187.393803 
L 818.41809 184.871222 
L 827.809946 181.68487 
L 841.226883 176.867236 
L 842.904 176.256 
L 842.904 176.256 
" clip-path="url(#pa5f1720a9e)" style="fill: none; stroke: #ff7f0e; stroke-width: 1.5; stroke-linecap: square"/>
   </g>
   <g id="patch_28">
    <path d="M 507.96 215.64 
L 507.96 137.88 
" style="fill: none; stroke: #000000; stroke-width: 0.8; stroke-linejoin: miter; stroke-linecap: square"/>
   </g>
   <g id="patch_29">
    <path d="M 843.48 215.64 
L 843.48 137.88 
" style="fill: none; stroke: #000000; stroke-width: 0.8; stroke-linejoin: miter; stroke-linecap: square"/>
   </g>
   <g id="patch_30">
    <path d="M 507.96 215.64 
L 843.48 215.64 
" style="fill: none; stroke: #000000; stroke-width: 0.8; stroke-linejoin: miter; stroke-linecap: square"/>
   </g>
   <g id="patch_31">
    <path d="M 507.96 137.88 
L 843.48 137.88 
" style="fill: none; stroke: #000000; stroke-width: 0.8; stroke-linejoin: miter; stroke-linecap: square"/>
   </g>
  </g>
  <g id="axes_7">
   <g id="patch_32">
    <path d="M 507.96 293.4 
L 843.48 293.4 
L 843.48 215.64 
L 507.96 215.64 
z
" style="fill: #ffffff"/>
   </g>
   <g id="matplotlib.axis_13">
    <g id="xtick_31">
     <g id="line2d_61">
      <g>
       <use href="#m1504cfccaf" x="507.9600" y="293.4" style="stroke: #000000; stroke-width: 0.8"/>
      </g>
     </g>
    </g>
    <g id="xtick_32">
     <g id="line2d_62">
      <g>
       <use href="#m1504cfccaf" x="592.2000" y="293.4" style="stroke: #000000; stroke-width: 0.8"/>
      </g>
     </g>
    </g>
    <g id="xtick_33">
     <g id="line2d_63">
      <g>
       <use href="#m1504cfccaf" x="675.7200" y="293.4" style="stroke: #000000; stroke-width: 0.8"/>
      </g>
     </g>
    </g>
    <g id="xtick_34">
     <g id="line2d_64">
      <g>
       <use href="#m1504cfccaf" x="759.2400" y="293.4" style="stroke: #000000; stroke-width: 0.8"/>
      </g>
     </g>
    </g>
    <g id="xtick_35">
     <g id="line2d_65">
      <g>
       <use href="#m1504cfccaf" x="843.4800" y="293.4" style="stroke: #000000; stroke-width: 0.8"/>
      </g>
     </g>
    </g>
   </g>
   <g id="matplotlib.axis_14">
    <g id="ytick_19">
     <g id="line2d_66">
      <g>
       <use href="#m5d545ce8f8" x="507.9600" y="280.44" style="stroke: #000000; stroke-width: 0.8"/>
      </g>
     </g>
     <g id="text_31">
      <!-- −0.1 -->
      <g transform="translate(461.6075 286.51875) scale(0.16 -0.1672)">
       <use href="#DejaVuSans-2212"/>
       <use href="#DejaVuSans-30" transform="translate(83.789062 0)"/>
       <use href="#DejaVuSans-2e" transform="translate(147.412109 0)"/>
       <use href="#DejaVuSans-31" transform="translate(179.199219 0)"/>
      </g>
     </g>
    </g>
    <g id="ytick_20">
     <g id="line2d_67">
      <g>
       <use href="#m5d545ce8f8" x="507.9600" y="254.52" style="stroke: #000000; stroke-width: 0.8"/>
      </g>
     </g>
     <g id="text_32">
      <!-- 0.0 -->
      <g transform="translate(475.015 260.59875) scale(0.16 -0.1672)">
       <use href="#DejaVuSans-30"/>
       <use href="#DejaVuSans-2e" transform="translate(63.623047 0)"/>
       <use href="#DejaVuSans-30" transform="translate(95.410156 0)"/>
      </g>
     </g>
    </g>
    <g id="ytick_21">
     <g id="line2d_68">
      <g>
       <use href="#m5d545ce8f8" x="507.9600" y="228.6" style="stroke: #000000; stroke-width: 0.8"/>
      </g>
     </g>
     <g id="text_33">
      <!-- 0.1 -->
      <g transform="translate(475.015 234.67875) scale(0.16 -0.1672)">
       <use href="#DejaVuSans-30"/>
       <use href="#DejaVuSans-2e" transform="translate(63.623047 0)"/>
       <use href="#DejaVuSans-31" transform="translate(95.410156 0)"/>
      </g>
     </g>
    </g>
    <g id="text_34">
     <!-- $v_y$ -->
     <g transform="translate(448.8155 264.92) rotate(-90) scale(0.2 -0.208)">
      <use href="#DejaVuSans-Oblique-76" transform="translate(0 0.3125)"/>
      <use href="#DejaVuSans-Oblique-79" transform="translate(59.179688 -16.09375) scale(0.7)"/>
     </g>
    </g>
   </g>
   <g id="line2d_69">
    <path d="M 658.6056 254.016 
L 658.944073 249.83876 
L 659.282545 249.849171 
L 659.621018 249.053337 
L 659.959491 249.239127 
L 660.297964 249.202423 
L 660.636436 249.834433 
L 660.974909 249.598243 
L 661.313382 250.082277 
L 661.651855 248.854279 
L 661.990327 250.654487 
L 662.3288 249.89609 
L 662.667273 250.367475 
L 663.005745 250.03573 
L 663.344218 249.993608 
L 663.682691 250.498313 
L 664.021164 250.760805 
L 664.359636 250.323631 
L 664.698109 252.157263 
L 665.036582 252.660525 
L 665.375055 251.957048 
L 665.713527 251.713313 
L 666.052 252.75659 
L 666.390473 252.300602 
L 666.728945 251.751851 
L 667.067418 252.390639 
L 667.405891 252.646553 
L 667.744364 252.362226 
L 668.082836 252.29285 
L 668.421309 253.14504 
L 668.759782 253.660379 
L 669.098255 253.172322 
L 669.436727 252.996765 
L 669.7752 253.647348 
L 670.113673 253.896627 
L 670.452145 253.465815 
L 670.790618 253.97346 
L 671.129091 254.30653 
L 671.467564 253.758629 
L 671.806036 253.534975 
L 672.144509 254.202289 
L 672.482982 253.585955 
L 672.821455 254.09714 
L 673.159927 252.978081 
L 673.4984 253.37425 
L 673.836873 253.367477 
L 674.175345 252.998196 
L 674.513818 254.0181 
L 674.852291 254.302636 
L 675.190764 253.746524 
L 675.529236 254.899492 
L 675.867709 254.697627 
L 676.206182 254.681821 
L 676.544655 254.650321 
L 676.883127 255.011744 
L 677.2216 253.94098 
L 677.560073 255.867911 
L 677.898545 255.944461 
L 678.237018 254.831878 
L 678.575491 255.97983 
L 678.913964 255.760801 
L 679.252436 256.362953 
L 679.590909 255.829792 
L 679.929382 256.123859 
L 680.267855 256.387777 
L 680.606327 255.855224 
L 680.9448 256.680382 
L 681.283273 256.407562 
L 681.621745 256.790391 
L 681.960218 256.360828 
L 682.298691 257.252871 
L 682.637164 257.09197 
L 682.975636 256.778676 
L 683.314109 257.268284 
L 683.652582 257.665995 
L 683.991055 258.01505 
L 684.329527 255.68035 
L 684.668 256.999579 
L 685.006473 256.869832 
L 685.344945 256.668995 
L 685.683418 256.289708 
L 686.021891 257.511356 
L 686.360364 256.322378 
L 686.698836 257.32449 
L 687.037309 257.775236 
L 687.375782 256.393093 
L 687.714255 257.126972 
L 688.052727 256.699591 
L 688.3912 257.562311 
L 688.729673 258.282299 
L 689.068145 258.618542 
L 689.406618 256.781983 
L 689.745091 257.467726 
L 690.083564 258.191296 
L 690.422036 258.711779 
L 690.760509 258.206986 
L 691.098982 257.697407 
L 691.437455 258.301842 
L 691.775927 258.222177 
L 692.1144 258.206175 
" clip-path="url(#p50aa4f1569)" style="fill: none; stroke: #1f77b4; stroke-width: 1.5; stroke-linecap: square"/>
   </g>
   <g id="line2d_70">
    <path d="M 507.816 254.016 
L 527.605982 249.316429 
L 538.339532 246.996832 
L 547.395964 245.256596 
L 555.78155 243.86896 
L 563.496288 242.812744 
L 570.875604 242.021188 
L 577.919495 241.479331 
L 584.963387 241.155857 
L 592.007279 241.056401 
L 599.051171 241.182694 
L 606.095063 241.532537 
L 613.138955 242.099836 
L 620.51827 242.916569 
L 628.233009 243.996977 
L 636.283171 245.347097 
L 645.339604 247.099925 
L 655.73773 249.354434 
L 669.154667 252.511436 
L 697.330234 259.20527 
L 707.72836 261.407762 
L 716.784793 263.100511 
L 724.834955 264.387128 
L 732.549694 265.399144 
L 739.929009 266.144892 
L 746.972901 266.64062 
L 754.016793 266.916432 
L 761.060685 266.967526 
L 768.104577 266.79301 
L 775.148468 266.395925 
L 782.527784 265.748798 
L 789.907099 264.877395 
L 797.621838 263.744713 
L 806.007423 262.283922 
L 815.063856 260.478344 
L 825.797405 258.102171 
L 840.891459 254.504953 
L 842.904 254.016 
L 842.904 254.016 
" clip-path="url(#p50aa4f1569)" style="fill: none; stroke: #ff7f0e; stroke-width: 1.5; stroke-linecap: square"/>
   </g>
   <g id="patch_33">
    <path d="M 507.96 293.4 
L 507.96 215.64 
" style="fill: none; stroke: #000000; stroke-width: 0.8; stroke-linejoin: miter; stroke-linecap: square"/>
   </g>
   <g id="patch_34">
    <path d="M 843.48 293.4 
L 843.48 215.64 
" style="fill: none; stroke: #000000; stroke-width: 0.8; stroke-linejoin: miter; stroke-linecap: square"/>
   </g>
   <g id="patch_35">
    <path d="M 507.96 293.4 
L 843.48 293.4 
" style="fill: none; stroke: #000000; stroke-width: 0.8; stroke-linejoin: miter; stroke-linecap: square"/>
   </g>
   <g id="patch_36">
    <path d="M 507.96 215.64 
L 843.48 215.64 
" style="fill: none; stroke: #000000; stroke-width: 0.8; stroke-linejoin: miter; stroke-linecap: square"/>
   </g>
  </g>
  <g id="axes_8">
   <g id="patch_37">
    <path d="M 507.96 371.16 
L 843.48 371.16 
L 843.48 293.4 
L 507.96 293.4 
z
" style="fill: #ffffff"/>
   </g>
   <g id="matplotlib.axis_15">
    <g id="xtick_36">
     <g id="line2d_71">
      <g>
       <use href="#m1504cfccaf" x="507.9600" y="371.16" style="stroke: #000000; stroke-width: 0.8"/>
      </g>
     </g>
     <g id="text_35">
      <!-- 40 -->
      <g transform="translate(497.2800 390.3175) scale(0.16 -0.1672)">
       <use href="#DejaVuSans-34"/>
       <use href="#DejaVuSans-30" transform="translate(63.623047 0)"/>
      </g>
     </g>
    </g>
    <g id="xtick_37">
     <g id="line2d_72">
      <g>
       <use href="#m1504cfccaf" x="592.2000" y="371.16" style="stroke: #000000; stroke-width: 0.8"/>
      </g>
     </g>
     <g id="text_36">
      <!-- 45 -->
      <g transform="translate(581.1600 390.3175) scale(0.16 -0.1672)">
       <use href="#DejaVuSans-34"/>
       <use href="#DejaVuSans-35" transform="translate(63.623047 0)"/>
      </g>
     </g>
    </g>
    <g id="xtick_38">
     <g id="line2d_73">
      <g>
       <use href="#m1504cfccaf" x="675.7200" y="371.16" style="stroke: #000000; stroke-width: 0.8"/>
      </g>
     </g>
     <g id="text_37">
      <!-- 50 -->
      <g transform="translate(665.0400 390.3175) scale(0.16 -0.1672)">
       <use href="#DejaVuSans-35"/>
       <use href="#DejaVuSans-30" transform="translate(63.623047 0)"/>
      </g>
     </g>
    </g>
    <g id="xtick_39">
     <g id="line2d_74">
      <g>
       <use href="#m1504cfccaf" x="759.2400" y="371.16" style="stroke: #000000; stroke-width: 0.8"/>
      </g>
     </g>
     <g id="text_38">
      <!-- 55 -->
      <g transform="translate(748.9200 390.3175) scale(0.16 -0.1672)">
       <use href="#DejaVuSans-35"/>
       <use href="#DejaVuSans-35" transform="translate(63.623047 0)"/>
      </g>
     </g>
    </g>
    <g id="xtick_40">
     <g id="line2d_75">
      <g>
       <use href="#m1504cfccaf" x="843.4800" y="371.16" style="stroke: #000000; stroke-width: 0.8"/>
      </g>
     </g>
     <g id="text_39">
      <!-- 60 -->
      <g transform="translate(832.8000 390.3175) scale(0.16 -0.1672)">
       <use href="#DejaVuSans-36"/>
       <use href="#DejaVuSans-30" transform="translate(63.623047 0)"/>
      </g>
     </g>
    </g>
    <g id="text_40">
     <!-- $y/\lambda_i$ -->
     <g transform="translate(658.22 415.005) scale(0.2 -0.208)">
      <use href="#DejaVuSans-Oblique-79" transform="translate(0 0.015625)"/>
      <use href="#DejaVuSans-2f" transform="translate(59.179688 0.015625)"/>
      <use href="#DejaVuSans-Oblique-3bb" transform="translate(92.871094 0.015625)"/>
      <use href="#DejaVuSans-Oblique-69" transform="translate(152.050781 -16.390625) scale(0.7)"/>
     </g>
    </g>
   </g>
   <g id="matplotlib.axis_16">
    <g id="ytick_22">
     <g id="line2d_76">
      <g>
       <use href="#m5d545ce8f8" x="507.9600" y="351.72" style="stroke: #000000; stroke-width: 0.8"/>
      </g>
     </g>
     <g id="text_41">
      <!-- 0.95 -->
      <g transform="translate(464.835 357.79875) scale(0.16 -0.1672)">
       <use href="#DejaVuSans-30"/>
       <use href="#DejaVuSans-2e" transform="translate(63.623047 0)"/>
       <use href="#DejaVuSans-39" transform="translate(95.410156 0)"/>
       <use href="#DejaVuSans-35" transform="translate(159.033203 0)"/>
      </g>
     </g>
    </g>
    <g id="ytick_23">
     <g id="line2d_77">
      <g>
       <use href="#m5d545ce8f8" x="507.9600" y="332.28" style="stroke: #000000; stroke-width: 0.8"/>
      </g>
     </g>
     <g id="text_42">
      <!-- 1.00 -->
      <g transform="translate(464.835 338.35875) scale(0.16 -0.1672)">
       <use href="#DejaVuSans-31"/>
       <use href="#DejaVuSans-2e" transform="translate(63.623047 0)"/>
       <use href="#DejaVuSans-30" transform="translate(95.410156 0)"/>
       <use href="#DejaVuSans-30" transform="translate(159.033203 0)"/>
      </g>
     </g>
    </g>
    <g id="ytick_24">
     <g id="line2d_78">
      <g>
       <use href="#m5d545ce8f8" x="507.9600" y="312.84" style="stroke: #000000; stroke-width: 0.8"/>
      </g>
     </g>
     <g id="text_43">
      <!-- 1.05 -->
      <g transform="translate(464.835 318.91875) scale(0.16 -0.1672)">
       <use href="#DejaVuSans-31"/>
       <use href="#DejaVuSans-2e" transform="translate(63.623047 0)"/>
       <use href="#DejaVuSans-30" transform="translate(95.410156 0)"/>
       <use href="#DejaVuSans-35" transform="translate(159.033203 0)"/>
      </g>
     </g>
    </g>
    <g id="text_44">
     <!-- $p$ -->
     <g transform="translate(454.907 338.68) rotate(-90) scale(0.2 -0.208)">
      <defs>
       <path id="DejaVuSans-Oblique-70" d="M 3175 2156 
Q 3175 2616 2975 2859 
Q 2775 3103 2400 3103 
Q 2144 3103 1911 2972 
Q 1678 2841 1497 2591 
Q 1319 2344 1212 1994 
Q 1106 1644 1106 1300 
Q 1106 863 1306 627 
Q 1506 391 1875 391 
Q 2147 391 2380 519 
Q 2613 647 2778 891 
Q 2956 1147 3065 1494 
Q 3175 1841 3175 2156 
z
M 1394 2969 
Q 1625 3272 1939 3428 
Q 2253 3584 2638 3584 
Q 3175 3584 3472 3232 
Q 3769 2881 3769 2247 
Q 3769 1728 3584 1258 
Q 3400 788 3053 416 
Q 2822 169 2531 39 
Q 2241 -91 1919 -91 
Q 1547 -91 1294 64 
Q 1041 219 916 525 
L 556 -1331 
L -19 -1331 
L 922 3500 
L 1497 3500 
L 1394 2969 
z
" transform="scale(0.015625)"/>
      </defs>
      <use href="#DejaVuSans-Oblique-70"/>
     </g>
    </g>
   </g>
   <g id="line2d_79">
    <path d="M 658.26 325.333329 
L 658.62 338.22 
L 658.98 338.22 
L 659.34 322.155295 
L 659.7 320.338165 
L 660.06 329.088429 
L 660.42 328.883532 
L 660.78 317.52 
L 661.14 319.456879 
L 661.5 333.72 
L 661.86 333.72 
L 662.22 315.507279 
L 662.58 314.1 
L 662.94 328.714516 
L 663.3 333.786446 
L 663.66 316.220245 
L 664.02 325.827739 
L 664.38 334.784673 
L 664.74 335.090865 
L 665.1 325.535919 
L 665.46 325.13856 
L 665.82 337.368548 
L 666.18 340.512543 
L 666.54 334.021543 
L 666.9 331.431058 
L 667.26 340.183194 
L 667.62 342.36 
L 667.98 331.2 
L 668.34 332.905368 
L 668.7 342.36 
L 669.06 339.013074 
L 669.42 336.454649 
L 669.78 336.245732 
L 670.14 339.386493 
L 670.5 346.5 
L 670.86 334.723995 
L 671.22 332.048086 
L 671.58 346.5 
L 671.94 338.928159 
L 672.3 331.870919 
L 672.66 330.481259 
L 673.02 339.12 
L 673.38 337.038552 
L 673.74 322.74 
L 674.1 322.74 
L 674.46 345.24 
L 674.82 345.24 
L 675.18 323.581387 
L 675.54 330.273887 
L 675.9 345.24 
L 676.26 333.106263 
L 676.62 326.88 
L 676.98 326.88 
L 677.34 339.76458 
L 677.7 342.015292 
L 678.06 327.801368 
L 678.42 335.76981 
L 678.78 342.269218 
L 679.14 342.9 
L 679.5 327.78 
L 679.86 327.78 
L 680.22 341.453024 
L 680.58 344.52 
L 680.94 329.963774 
L 681.3 332.247858 
L 681.66 344.047819 
L 682.02 351.070178 
L 682.38 331.38 
L 682.74 335.409924 
L 683.1 351.72 
L 683.46 337.290656 
L 683.82 329.910608 
L 684.18 321.12 
L 684.54 336.035059 
L 684.9 340.296325 
L 685.26 321.12 
L 685.62 325.210605 
L 685.98 340.560121 
L 686.34 344.142968 
L 686.7 328.716712 
L 687.06 340.830219 
L 687.42 348.61722 
L 687.78 350.28 
L 688.14 342.025641 
L 688.5 340.651564 
L 688.86 345.371037 
L 689.22 345.96 
L 689.58 339.704506 
L 689.94 338.866023 
L 690.3 345.688419 
L 690.66 354.024 
L 691.02 335.267687 
L 691.38 334.98 
L 691.74 354.024 
L 692.1 341.949141 
L 692.46 336.21054 
" clip-path="url(#p8ff83c27a3)" style="fill: none; stroke: #1f77b4; stroke-width: 1.5; stroke-linecap: square"/>
   </g>
   <g id="line2d_80">
    <path d="M 507.816 331.776 
L 524.922595 321.506987 
L 532.972757 316.941867 
L 539.681225 313.378113 
L 545.718847 310.410135 
L 551.421045 307.853047 
L 556.78782 305.693214 
L 561.819171 303.907136 
L 566.515099 302.464128 
L 571.211027 301.249828 
L 575.906955 300.27446 
L 580.267459 299.589936 
L 584.627964 299.123549 
L 588.988468 298.878705 
L 593.348973 298.857196 
L 597.709477 299.05918 
L 602.069982 299.483178 
L 606.430486 300.126092 
L 610.790991 300.983229 
L 615.486919 302.138679 
L 620.182847 303.525574 
L 625.214198 305.255092 
L 630.24555 307.220287 
L 635.612324 309.555057 
L 641.314523 312.277828 
L 647.687568 315.576101 
L 654.731459 319.477089 
L 663.452468 324.57536 
L 679.552793 334.317282 
L 690.621766 340.878812 
L 698.671928 345.394911 
L 705.380396 348.911946 
L 711.418018 351.838753 
L 717.120216 354.362369 
L 722.486991 356.499428 
L 727.518342 358.275013 
L 732.549694 359.815206 
L 737.245622 361.029303 
L 741.94155 362.018928 
L 746.637477 362.777161 
L 751.333405 363.298718 
L 755.69391 363.567905 
L 760.054414 363.628266 
L 764.414919 363.479439 
L 768.775423 363.122316 
L 773.471351 362.507254 
L 778.167279 361.657395 
L 782.863207 360.57867 
L 787.559135 359.278633 
L 792.590486 357.650573 
L 797.621838 355.792203 
L 802.988613 353.573243 
L 808.690811 350.970752 
L 814.728432 347.970578 
L 821.436901 344.385456 
L 829.15164 340.003481 
L 839.214342 334.013199 
L 842.904 331.776 
L 842.904 331.776 
" clip-path="url(#p8ff83c27a3)" style="fill: none; stroke: #ff7f0e; stroke-width: 1.5; stroke-linecap: square"/>
   </g>
   <g id="patch_38">
    <path d="M 507.96 371.16 
L 507.96 293.4 
" style="fill: none; stroke: #000000; stroke-width: 0.8; stroke-linejoin: miter; stroke-linecap: square"/>
   </g>
   <g id="patch_39">
    <path d="M 843.48 371.16 
L 843.48 293.4 
" style="fill: none; stroke: #000000; stroke-width: 0.8; stroke-linejoin: miter; stroke-linecap: square"/>
   </g>
   <g id="patch_40">
    <path d="M 507.96 371.16 
L 843.48 371.16 
" style="fill: none; stroke: #000000; stroke-width: 0.8; stroke-linejoin: miter; stroke-linecap: square"/>
   </g>
   <g id="patch_41">
    <path d="M 507.96 293.4 
L 843.48 293.4 
" style="fill: none; stroke: #000000; stroke-width: 0.8; stroke-linejoin: miter; stroke-linecap: square"/>
   </g>
  </g>
  <g id="text_45">
   <!-- $\omega_{pe} t = 0.00$ -->
   <g transform="translate(342.56 34.512) scale(0.32 -0.3264)">
    <defs>
     <path id="DejaVuSans-Oblique-3c9" d="M 1369 -91 
Q 72 -91 434 1766 
Q 575 2500 1256 3500 
L 1875 3500 
Q 1231 2500 1088 1750 
Q 819 397 1519 397 
Q 2166 397 2478 2078 
L 3009 2078 
Q 2669 388 3316 397 
Q 4013 403 4275 1750 
Q 4419 2500 4169 3500 
L 4788 3500 
Q 5075 2500 4934 1766 
Q 4578 -94 3278 -91 
Q 2428 -88 2503 844 
Q 2194 -91 1369 -91 
z
" transform="scale(0.015625)"/>
     <path id="DejaVuSans-Oblique-65" d="M 3078 2063 
Q 3088 2113 3092 2166 
Q 3097 2219 3097 2272 
Q 3097 2653 2873 2875 
Q 2650 3097 2266 3097 
Q 1838 3097 1509 2826 
Q 1181 2556 1013 2059 
L 3078 2063 
z
M 3578 1613 
L 903 1613 
Q 884 1494 878 1425 
Q 872 1356 872 1306 
Q 872 872 1139 634 
Q 1406 397 1894 397 
Q 2269 397 2603 481 
Q 2938 566 3225 728 
L 3116 159 
Q 2806 34 2476 -28 
Q 2147 -91 1806 -91 
Q 1078 -91 686 257 
Q 294 606 294 1247 
Q 294 1794 489 2264 
Q 684 2734 1063 3103 
Q 1306 3334 1642 3459 
Q 1978 3584 2356 3584 
Q 2950 3584 3301 3228 
Q 3653 2872 3653 2272 
Q 3653 2128 3634 1964 
Q 3616 1800 3578 1613 
z
" transform="scale(0.015625)"/>
     <path id="DejaVuSans-Oblique-74" d="M 2706 3500 
L 2619 3053 
L 1472 3053 
L 1100 1153 
Q 1081 1047 1072 975 
Q 1063 903 1063 863 
Q 1063 663 1183 572 
Q 1303 481 1569 481 
L 2150 481 
L 2053 0 
L 1503 0 
Q 991 0 739 200 
Q 488 400 488 806 
Q 488 878 497 964 
Q 506 1050 525 1153 
L 897 3053 
L 409 3053 
L 500 3500 
L 978 3500 
L 1172 4494 
L 1747 4494 
L 1556 3500 
L 2706 3500 
z
" transform="scale(0.015625)"/>
     <path id="DejaVuSans-3d" d="M 678 2906 
L 4684 2906 
L 4684 2381 
L 678 2381 
L 678 2906 
z
M 678 1631 
L 4684 1631 
L 4684 1100 
L 678 1100 
L 678 1631 
z
" transform="scale(0.015625)"/>
    </defs>
    <use href="#DejaVuSans-Oblique-3c9" transform="translate(0 0.78125)"/>
    <use href="#DejaVuSans-Oblique-70" transform="translate(83.740234 -15.625) scale(0.7)"/>
    <use href="#DejaVuSans-Oblique-65" transform="translate(128.173828 -15.625) scale(0.7)"/>
    <use href="#DejaVuSans-Oblique-74" transform="translate(173.974609 0.78125)"/>
    <use href="#DejaVuSans-3d" transform="translate(232.666016 0.78125)"/>
    <use href="#DejaVuSans-30" transform="translate(335.9375 0.78125)"/>
    <use href="#DejaVuSans-2e" transform="translate(399.560547 0.78125)"/>
    <use href="#DejaVuSans-30" transform="translate(431.347656 0.78125)"/>
    <use href="#DejaVuSans-30" transform="translate(494.970703 0.78125)"/>
   </g>
  </g>
 </g>
 <defs>
  <clipPath id="p53d10d1dcf">
   <rect x="85.32" y="60.12" width="334.8" height="77.76"/>
  </clipPath>
  <clipPath id="p3baa5bf8ba">
   <rect x="85.32" y="137.88" width="334.8" height="77.76"/>
  </clipPath>
  <clipPath id="p8526e058fb">
   <rect x="85.32" y="215.64" width="334.8" height="77.76"/>
  </clipPath>
  <clipPath id="p527ee5ba74">
   <rect x="85.32" y="293.4" width="334.8" height="77.76"/>
  </clipPath>
  <clipPath id="pd490ebf301">
   <rect x="507.96" y="60.12" width="335.52" height="77.76"/>
  </clipPath>
  <clipPath id="pa5f1720a9e">
   <rect x="507.96" y="137.88" width="335.52" height="77.76"/>
  </clipPath>
  <clipPath id="p50aa4f1569">
   <rect x="507.96" y="215.64" width="335.52" height="77.76"/>
  </clipPath>
  <clipPath id="p8ff83c27a3">
   <rect x="507.96" y="293.4" width="335.52" height="77.76"/>
  </clipPath>
 </defs>
</svg>

</body></html>
